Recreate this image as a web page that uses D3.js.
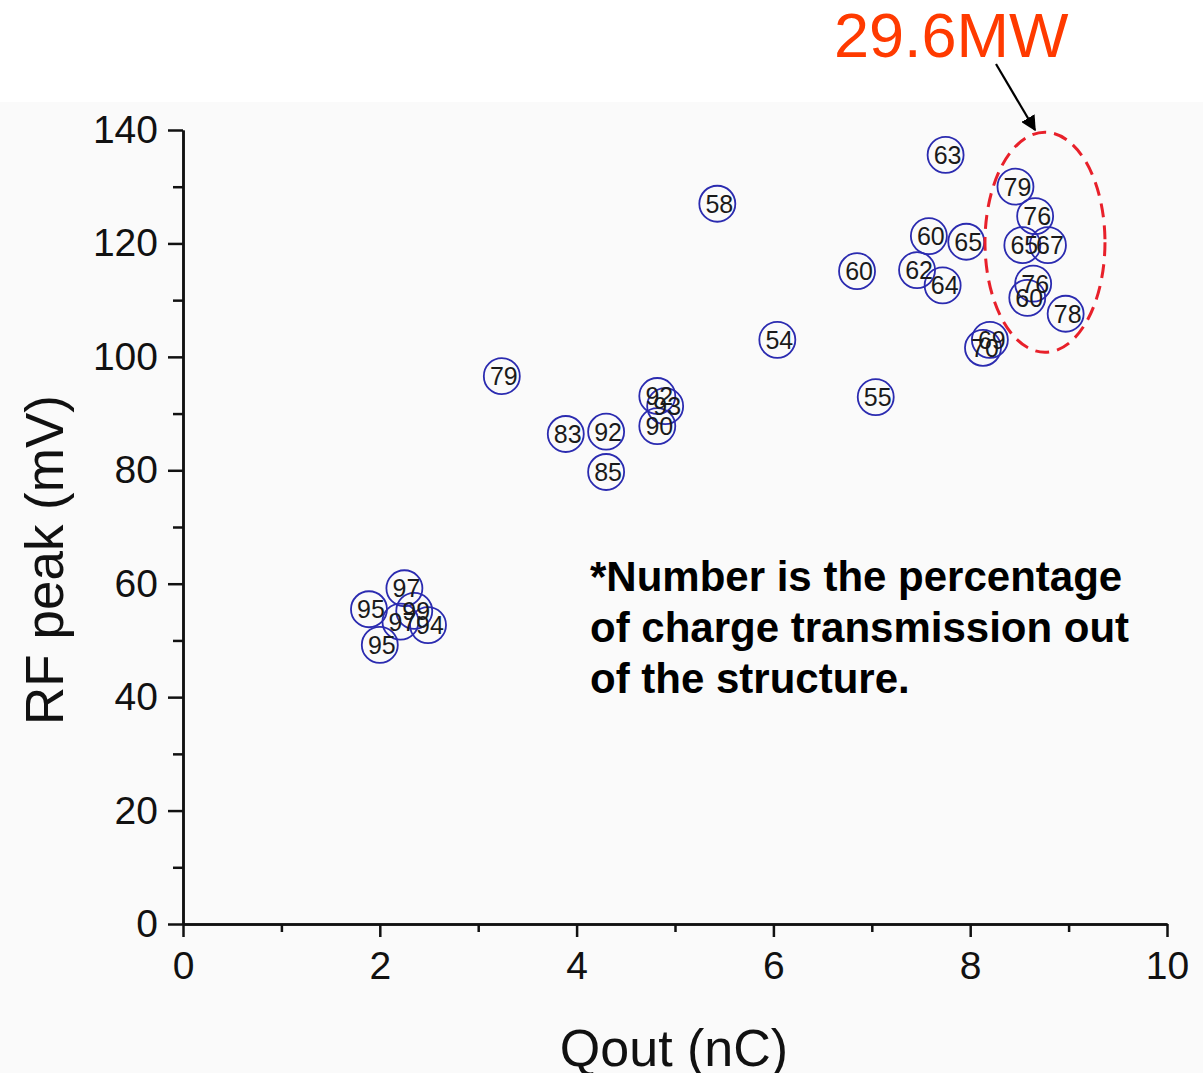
<!DOCTYPE html>
<html>
<head>
<meta charset="utf-8">
<script src="https://cdn.jsdelivr.net/npm/d3@7"></script>
<style>
  html, body { margin: 0; padding: 0; background: #ffffff; }
  svg { display: block; font-family: "Liberation Sans", Arial, Helvetica, sans-serif; }
</style>
</head>
<body>
<svg id="chart" width="1203" height="1073"></svg>
<script>
// Measured shots: output charge, RF peak amplitude and charge transmission (%)
const qout = [7.75, 8.46, 8.66, 8.53, 8.79, 8.64, 8.58, 8.97,
              7.58, 7.96, 7.46, 7.72, 8.20, 8.13,
              5.43, 6.85, 6.04, 7.04, 3.24,
              4.82, 4.90, 4.82, 3.89, 4.30, 4.30,
              2.25, 1.89, 2.35, 2.21, 2.49, 2.00];
const rfPeak = [135.6, 130.0, 124.8, 119.7, 119.7, 112.9, 110.4, 107.6,
                121.3, 120.3, 115.3, 112.6, 103.0, 101.6,
                127.0, 115.1, 103.0, 92.9, 96.6,
                93.1, 91.3, 87.8, 86.4, 86.8, 79.7,
                59.2, 55.5, 55.2, 53.3, 52.7, 49.2];
const transmission = ["63", "79", "76", "65", "67", "76", "60", "78",
                      "60", "65", "62", "64", "69", "70",
                      "58", "60", "54", "55", "79",
                      "92", "93", "90", "83", "92", "85",
                      "97", "95", "99", "97", "94", "95"];

const xMajorTicks = [0, 2, 4, 6, 8, 10];
const xMinorTicks = [1, 3, 5, 7, 9];
const yMajorTicks = [0, 20, 40, 60, 80, 100, 120, 140];
const yMinorTicks = [10, 30, 50, 70, 90, 110, 130];

const xTitle = "Qout (nC)";
const yTitle = "RF peak (mV)";
const noteLines = ["*Number is the percentage", "of charge transmission out", "of the structure."];
const powerLabel = "29.6MW";

const svg = d3.select("#chart");

// light panel behind the plot
svg.append("rect").attr("x", 0).attr("y", 102).attr("width", 1203).attr("height", 971)
  .attr("fill", "#fafafa");

const x = d3.scaleLinear().domain([0, 10]).range([183, 1167]);
const y = d3.scaleLinear().domain([0, 140]).range([924, 130]);

function styleAxis(g) {
  g.selectAll("path.domain").attr("stroke", "#111").attr("stroke-width", 2.5);
  g.selectAll(".tick line").attr("stroke", "#111").attr("stroke-width", 2.5);
  g.selectAll(".tick text").attr("fill", "#111").style("font-size", "39px")
    .style("font-family", "'Liberation Sans', Arial, sans-serif");
}

// minor ticks
svg.append("g").attr("transform", "translate(0,924)")
  .call(d3.axisBottom(x).tickValues(xMinorTicks).tickSize(8).tickSizeOuter(0).tickFormat(""))
  .call(styleAxis);
svg.append("g").attr("transform", "translate(183,0)")
  .call(d3.axisLeft(y).tickValues(yMinorTicks).tickSize(10).tickSizeOuter(0).tickFormat(""))
  .call(styleAxis);

// major ticks with labels
svg.append("g").attr("transform", "translate(0,924)")
  .call(d3.axisBottom(x).tickValues(xMajorTicks).tickSize(13).tickSizeOuter(0).tickPadding(14).tickFormat(d3.format("d")))
  .call(styleAxis);
svg.append("g").attr("transform", "translate(183,0)")
  .call(d3.axisLeft(y).tickValues(yMajorTicks).tickSize(15).tickSizeOuter(0).tickPadding(10).tickFormat(d3.format("d")))
  .call(styleAxis);

// axis titles
svg.append("text").attr("x", x(4.99)).attr("y", 1066).attr("text-anchor", "middle")
  .attr("fill", "#111").style("font-size", "52px").text(xTitle);
svg.append("text").attr("transform", "translate(63,560) rotate(-90)").attr("text-anchor", "middle")
  .attr("fill", "#111").style("font-size", "53px").text(yTitle);

// data points: open circles labelled with transmission
const pts = d3.range(qout.length).map(i => ({ q: qout[i], v: rfPeak[i], t: transmission[i] }));
const pg = svg.append("g");
pg.selectAll("circle").data(pts).join("circle")
  .attr("cx", d => x(d.q)).attr("cy", d => y(d.v)).attr("r", 18)
  .attr("fill", "none").attr("stroke", "#2b2bb0").attr("stroke-width", 1.8);
pg.selectAll("text").data(pts).join("text")
  .attr("x", d => x(d.q) + 2).attr("y", d => y(d.v) + 9)
  .attr("text-anchor", "middle").attr("fill", "#1a1a1a").style("font-size", "25px")
  .text(d => d.t);

// note text
const note = svg.append("text").attr("fill", "#000").style("font-size", "42px").style("font-weight", "bold");
noteLines.forEach((s, i) => {
  note.append("tspan").attr("x", 590).attr("y", 591 + i * 51).text(s);
});

// highlight of the high-power shots
svg.append("ellipse").attr("cx", x(8.76)).attr("cy", y(120.2)).attr("rx", 60).attr("ry", 110)
  .attr("fill", "none").attr("stroke", "#e8202a").attr("stroke-width", 3)
  .attr("stroke-dasharray", "14 8");

svg.append("defs").append("marker").attr("id", "head").attr("viewBox", "0 0 10 10")
  .attr("refX", 9).attr("refY", 5).attr("markerWidth", 7).attr("markerHeight", 7)
  .attr("markerUnits", "strokeWidth").attr("orient", "auto")
  .append("path").attr("d", "M0,0 L10,5 L0,10 Z").attr("fill", "#000");
svg.append("line").attr("x1", 996).attr("y1", 64).attr("x2", 1035).attr("y2", 130)
  .attr("stroke", "#000").attr("stroke-width", 2.2).attr("marker-end", "url(#head)");

svg.append("text").attr("x", 834).attr("y", 57).attr("fill", "#ff3a00")
  .style("font-size", "63px").text(powerLabel);
</script>
</body>
</html>
